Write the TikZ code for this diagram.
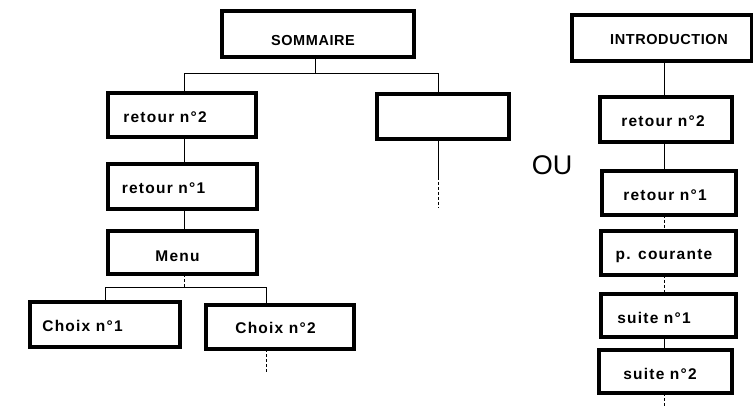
\documentclass[tikz,border=0pt]{standalone}
\usepackage{fontspec}
\setmainfont{Liberation Sans}[LetterSpace=8]
\newfontfamily\capfont{Liberation Sans}[LetterSpace=4]
\newfontfamily\oufont{Liberation Sans}
\begin{document}
\begin{tikzpicture}[x=1pt,y=-1pt,
  box/.style={draw, line width=3.5pt, inner sep=0pt, outer sep=0pt},
  lbl/.style={inner sep=0pt, font=\bfseries\fontsize{15.5}{16}\selectfont, anchor=center},
  caplbl/.style={inner sep=0pt, font=\capfont\bfseries\fontsize{14.5}{15}\selectfont, anchor=center},
  conn/.style={line width=1pt},
  dconn/.style={line width=1pt, dash pattern=on 3pt off 2pt}]
\useasboundingbox (0,0) rectangle (753,406);
% ---------- left tree ----------
\node[box, minimum width=192pt, minimum height=46pt] (som) at (318,34) {};
\node[caplbl] (somT) at (313,41) {SOMMAIRE};
\node[box, minimum width=148pt, minimum height=44pt] (ret2) at (182,115) {};
\node[lbl] (ret2T) at (165,117) {retour n°2};
\node[box, minimum width=132pt, minimum height=45pt] (empty) at (443,116.5) {};
\node[box, minimum width=149pt, minimum height=45pt] (ret1) at (182.5,186.5) {};
\node[lbl] (ret1T) at (163.5,188) {retour n°1};
\node[box, minimum width=149pt, minimum height=43pt] (menu) at (182.5,252.5) {};
\node[lbl] (menuT) at (177.5,256) {Menu};
\node[box, minimum width=150pt, minimum height=45pt] (ch1) at (105,324.5) {};
\node[lbl] (ch1T) at (82.5,326) {Choix n°1};
\node[box, minimum width=148pt, minimum height=44pt] (ch2) at (280,327) {};
\node[lbl] (ch2T) at (275.5,328) {Choix n°2};
\coordinate (j1) at (315,74);
\coordinate (j2) at (184,288);
\coordinate (emE) at (438,177);
\coordinate (emEnd) at (438,208);
\coordinate (ch2End) at (266,372);
\draw[conn] (som.south -| j1) -- (j1);
\draw[conn] (j1) -| (ret2.north -| j2);
\draw[conn] (j1) -| (emE |- empty.north);
\draw[conn] (ret2.south -| j2) -- (ret1.north -| j2);
\draw[conn] (ret1.south -| j2) -- (menu.north -| j2);
\draw[dconn] (menu.south -| j2) -- (j2);
\draw[conn] (j2) -| (ch1.north -| 105,0);
\draw[conn] (j2) -| (ch2.north -| ch2End);
\draw[dconn] (ch2.south -| ch2End) -- (ch2End);
\draw[conn] (empty.south -| emE) -- (emE);
\draw[dconn] (emE) -- (emEnd);
% ---------- OU ----------
\node[inner sep=0pt, font=\oufont\fontsize{27}{27}\selectfont] (ou) at (552,165) {OU};
% ---------- right tree ----------
\node[box, minimum width=180pt, minimum height=46pt] (intro) at (662,38) {};
\node[caplbl] (introT) at (669,40) {INTRODUCTION};
\node[box, minimum width=132pt, minimum height=45pt] (rr2) at (666,119.5) {};
\node[lbl] (rr2T) at (663,121) {retour n°2};
\node[box, minimum width=134pt, minimum height=44pt] (rr1) at (669,193) {};
\node[lbl] (rr1T) at (665,195) {retour n°1};
\node[box, minimum width=135pt, minimum height=44pt] (pc) at (668.5,253) {};
\node[lbl] (pcT) at (664,256) {p. courante};
\node[box, minimum width=135pt, minimum height=43pt] (s1) at (668.5,315.5) {};
\node[lbl] (s1T) at (654,318) {suite n°1};
\node[box, minimum width=133pt, minimum height=43pt] (s2) at (665.5,371.5) {};
\node[lbl] (s2T) at (660,374) {suite n°2};
\coordinate (rx) at (664,0);
\coordinate (rEnd) at (664,406);
\draw[conn] (intro.south -| rx) -- (rr2.north -| rx);
\draw[conn] (rr2.south -| rx) -- (rr1.north -| rx);
\draw[dconn] (rr1.south -| rx) -- (pc.north -| rx);
\draw[dconn] (pc.south -| rx) -- (s1.north -| rx);
\draw[conn] (s1.south -| rx) -- (s2.north -| rx);
\draw[dconn] (s2.south -| rx) -- (rEnd);
\end{tikzpicture}
\end{document}
